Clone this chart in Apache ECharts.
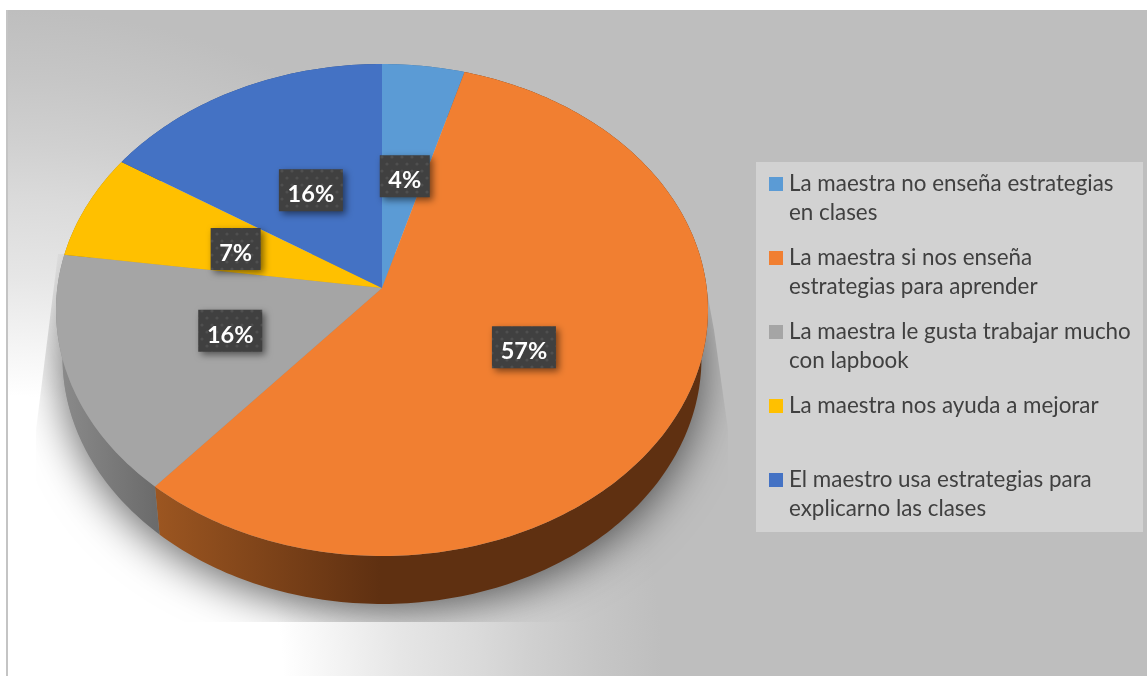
<!DOCTYPE html>
<html><head><meta charset="utf-8">
<style>
html,body{margin:0;padding:0;background:#fff;overflow:hidden}
#bg{position:absolute;left:6px;top:10px;width:1141px;height:666px;box-sizing:border-box;border-left:2px solid #c4c4c4;
background:radial-gradient(ellipse 654px 666px at 0px 666px,#fff 0%,#fff 42%,#e6e6e6 60%,#dadada 72%,#d0d0d0 80%,#c6c6c6 90%,#bebebe 100%,#bebebe 130%)}
#c{position:absolute;left:0;top:0;width:1147px;height:676px}
</style>
<script src="https://cdn.jsdelivr.net/npm/echarts@6/dist/echarts.min.js"></script>
</head><body><div id="bg"></div><div id="c"></div>
<script>
const categories = [
  'La maestra no enseña estrategias\nen clases',
  'La maestra si nos enseña\nestrategias para aprender',
  'La maestra le gusta trabajar mucho\ncon lapbook',
  'La maestra nos ayuda a mejorar',
  'El maestro usa estrategias para\nexplicarno las clases'
];
const values = [4.45, 56.85, 15.9, 6.9, 15.9];
const colors = ['#5B9BD5', '#F17F31', '#A5A5A5', '#FFC000', '#4472C4'];
const wallColors = [
  ['#3d6a92','#3d6a92'], ['#9c5621','#5f3011'], ['#8c8c8c','#6a6a6a'], ['#a67d00','#a67d00'], ['#2c4a80','#2c4a80']
];
const labelShift = [[-3,26],[-34,-12],[34,-10],[33,11],[18,25]];

// perspective pie geometry
const APEX = [382, 288], A = 324.7, B = 244, P = -0.0894, DEPTH = 48, LR = 0.6, BOTTOM_SX = 0.98;
function project(frac, r) {
  const t = frac * 2 * Math.PI, u = r * Math.sin(t), v = -r * Math.cos(t), d = 1 + P * v;
  return [APEX[0] + A * u / d, APEX[1] + B * v / d];
}
function arc(f0, f1, dy, sx) {
  const n = Math.max(2, Math.ceil((f1 - f0) * 360)), pts = [];
  for (let i = 0; i <= n; i++) {
    const p = project(f0 + (f1 - f0) * i / n, 1);
    pts.push([APEX[0] + (p[0] - APEX[0]) * (sx || 1), p[1] + dy]);
  }
  return pts;
}
const total = values.reduce((a, b) => a + b, 0);
let cum = 0;
const rows = values.map(v => { const r = [cum / total, (cum + v) / total, v]; cum += v; return r; });

// faint dotted texture of the data-label boxes
const tex = document.createElement('canvas');
tex.width = 10; tex.height = 14;
const tc = tex.getContext('2d');
tc.fillStyle = '#404040'; tc.fillRect(0, 0, 10, 14);
tc.fillStyle = '#4f4f4f';
[[2, 3], [7, 10]].forEach(d => { tc.beginPath(); tc.arc(d[0], d[1], 1.6, 0, 7); tc.fill(); });

const chart = echarts.init(document.getElementById('c'), null, {renderer: 'canvas'});
const textFont = 'Lato, Carlito, sans-serif';
const legendTop = 162, legendLeft = 756, rowGap = 74;
const graphicEls = [{type:'rect', silent:true, shape:{x:legendLeft, y:legendTop, width:387, height:370}, style:{fill:'#d2d2d2'}, z:1}];
categories.forEach((c, i) => {
  graphicEls.push({type:'rect', silent:true, shape:{x:769, y:177 + i * rowGap, width:14, height:14}, style:{fill:colors[i]}, z:2});
  graphicEls.push({type:'text', silent:true, x:789, y:169 + i * rowGap, z:2,
    style:{text:c, fill:'#404040', font:'22.4px ' + textFont, lineHeight:29, align:'left', verticalAlign:'top'}});
});

chart.setOption({
  animation: false,
  graphic: graphicEls,
  series: [
    {type:'custom', name:'shadow', coordinateSystem:'none', silent:true, z:1, data:[[0,1]],
      renderItem(params, api){
        return {type:'polygon', shape:{points:arc(0,1,DEPTH - 1, BOTTOM_SX)},
          clipPath:{type:'polygon', shape:{points:[[58,254],[36,430],[36,622],[728,622],[728,430],[714,330],[700,254]]}},
          style:{fill:'#8f8f8f', shadowColor:'rgba(0,0,0,0.6)', shadowBlur:44, shadowOffsetY:9}};
      }},
    {type:'custom', name:'walls', coordinateSystem:'none', silent:true, z:2, data:rows,
      renderItem(params, api){
        const i = params.dataIndex, f0 = api.value(0), f1 = api.value(1);
        const pts = arc(f0, f1, 0).concat(arc(f0, f1, DEPTH, BOTTOM_SX).reverse());
        const xs = pts.map(p => p[0]);
        const x0 = Math.min(...xs), x1 = Math.max(...xs);
        return {type:'polygon', shape:{points:pts}, style:{fill:{type:'linear', x:i===1?155:x0, y:0, x2:i===1?380:x1, y2:0, global:true,
          colorStops:[{offset:0,color:wallColors[i][0]},{offset:1,color:wallColors[i][1]}]}}};
      }},
    {type:'custom', name:'Estrategias', coordinateSystem:'none', z:3, silent:true, data:rows,
      renderItem(params, api){
        const i = params.dataIndex, f0 = api.value(0), f1 = api.value(1);
        return {type:'polygon', shape:{points:[APEX].concat(arc(f0, f1, 0))}, style:{fill:colors[i]}};
      }},
    {type:'custom', name:'labels', coordinateSystem:'none', z:4, silent:true, data:rows,
      renderItem(params, api){
        const i = params.dataIndex, f0 = api.value(0), f1 = api.value(1), v = api.value(2);
        const p = project((f0 + f1) / 2, LR);
        const pct = Math.round(v), cx = p[0] + labelShift[i][0], cy = p[1] + labelShift[i][1];
        const w = pct >= 10 ? 64 : 50, h = 42;
        return {type:'group', children:[
          {type:'rect', shape:{x:cx - w / 2, y:cy - h / 2, width:w, height:h},
            style:{fill:{image:tex, repeat:'repeat'}, shadowColor:'rgba(0,0,0,0.5)', shadowBlur:7, shadowOffsetX:3, shadowOffsetY:3}},
          {type:'text', x:cx, y:cy + 4.5, style:{text:pct + '%', fill:'#fff', font:'bold 23.5px ' + textFont, align:'center', verticalAlign:'middle'}}
        ]};
      }}
  ]
});
</script></body></html>
